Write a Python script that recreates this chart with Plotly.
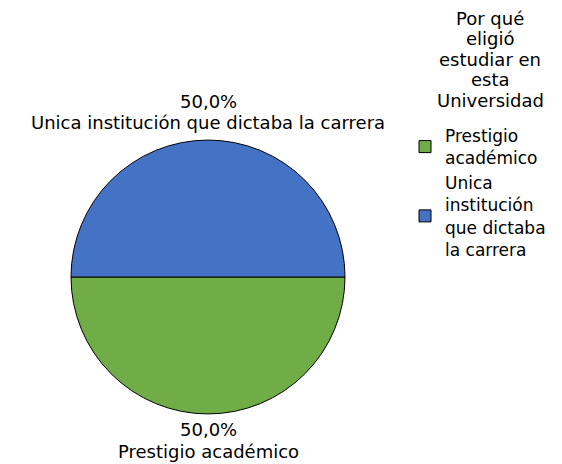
import plotly.graph_objects as go

labels = ["Prestigio académico", "Unica institución que dictaba la carrera"]
legend_labels = ["Prestigio<br>académico", "Unica<br>institución<br>que dictaba<br>la carrera"]
values = [50, 50]
colors = ["#70AD47", "#4472C4"]
legend_title_lines = ["Por qué", "eligió", "estudiar en", "esta", "Universidad"]

W, H = 562, 464
# page is shown with an 8px body margin, so figure coords = page coords - 8
cx, cy, r = 200, 269, 137

total = sum(values)
pct = [f"{v / total * 100:.1f}".replace(".", ",") + "%" for v in values]

fig = go.Figure()
fig.add_trace(go.Pie(
    labels=legend_labels,
    values=values,
    sort=False,
    direction="clockwise",
    rotation=90,
    marker=dict(colors=colors, line=dict(color="#000000", width=1)),
    textinfo="none",
    hoverinfo="label+percent",
    domain=dict(x=[(cx - r) / W, (cx + r) / W], y=[(H - cy - r) / H, (H - cy + r) / H]),
))

font = dict(family="DejaVu Sans, Arial, sans-serif", size=18, color="#000000")
lfont = dict(family="DejaVu Sans, Arial, sans-serif", size=17, color="#000000")


def add_text(text, x, y, f=font):
    fig.add_annotation(text=text, x=x / W, y=(H - y) / H, xref="paper", yref="paper",
                       xanchor="center", yanchor="middle", showarrow=False, font=f,
                       borderpad=0)


# labels of the top (blue) and bottom (green) slices
add_text(pct[1], cx, 93)
add_text(labels[1], cx, 114)
add_text(pct[0], cx, 421)
add_text(labels[0], cx, 443)

# legend title, one line each
for i, line in enumerate(legend_title_lines):
    add_text(line, 482, 10 + i * 20.5)

fig.update_layout(
    width=W, height=H,
    margin=dict(l=0, r=0, t=0, b=0),
    paper_bgcolor="white",
    plot_bgcolor="white",
    font=font,
    legend=dict(
        x=397 / W, y=(H - 110) / H, xanchor="left", yanchor="top",
        font=lfont, tracegroupgap=0,
    ),
)

fig.write_html("out.html")
